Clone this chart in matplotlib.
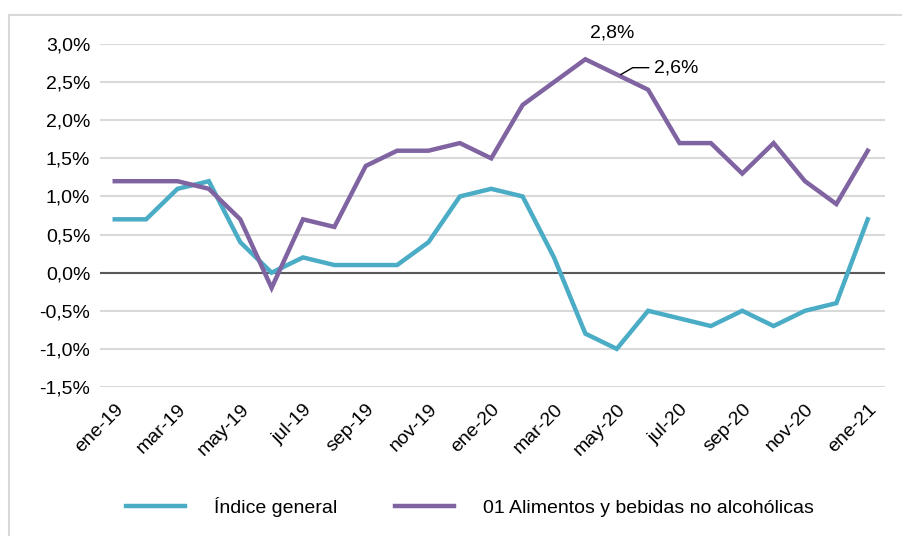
import numpy as np
import matplotlib
matplotlib.use('Agg')
import matplotlib.pyplot as plt
from matplotlib.patches import Rectangle
from matplotlib.ticker import FuncFormatter

plt.rcParams['font.family'] = ['Liberation Sans Narrow', 'Liberation Sans', 'DejaVu Sans']

months = ['ene-19', 'feb-19', 'mar-19', 'abr-19', 'may-19', 'jun-19', 'jul-19', 'ago-19',
          'sep-19', 'oct-19', 'nov-19', 'dic-19', 'ene-20', 'feb-20', 'mar-20', 'abr-20',
          'may-20', 'jun-20', 'jul-20', 'ago-20', 'sep-20', 'oct-20', 'nov-20', 'dic-20', 'ene-21']
general = [0.7, 0.7, 1.1, 1.2, 0.4, 0.0, 0.2, 0.1, 0.1, 0.1, 0.4, 1.0, 1.1,
           1.0, 0.2, -0.8, -1.0, -0.5, -0.6, -0.7, -0.5, -0.7, -0.5, -0.4, 0.7]
alimentos = [1.2, 1.2, 1.2, 1.1, 0.7, -0.2, 0.7, 0.6, 1.4, 1.6, 1.6, 1.7, 1.5,
             2.2, 2.5, 2.8, 2.6, 2.4, 1.7, 1.7, 1.3, 1.7, 1.2, 0.9, 1.6]
yticks = [-1.5, -1.0, -0.5, 0.0, 0.5, 1.0, 1.5, 2.0, 2.5, 3.0]

c_gen = '#4bacc6'
c_ali = '#8064a2'

fig = plt.figure(figsize=(9.03, 5.36), dpi=100)
ax = fig.add_axes([100 / 903, 1 - 387 / 536, 785 / 903, 343 / 536])

x = np.arange(len(months))
ax.plot(x, general, color=c_gen, lw=3.2, label='Índice general', solid_joinstyle='miter')
ax.plot(x, alimentos, color=c_ali, lw=3.2, label='01 Alimentos y bebidas no alcohólicas',
        solid_joinstyle='miter')

ax.set_xlim(-0.47, 24.55)
ax.set_ylim(-1.5, 3.0)
ax.set_yticks(yticks)
ax.yaxis.set_major_formatter(FuncFormatter(lambda v, p: f'{v:.1f}%'.replace('.', ',')))
ax.set_xticks(x[::2])
ax.set_xticklabels(months[::2], rotation=45, ha='right', va='top', rotation_mode='anchor')
ax.tick_params(length=0, labelsize=14, pad=7)
ax.tick_params(axis='x', pad=10)
ax.grid(axis='y', color='#d9d9d9', lw=1.5)
ax.set_axisbelow(True)
for s in ax.spines.values():
    s.set_visible(False)
ax.axhline(0, color='#595959', lw=1.5, zorder=1.5)

# data labels
i = months.index('abr-20')
ax.annotate(f'{alimentos[i]:.1f}%'.replace('.', ','), (i, alimentos[i]), xytext=(19, 13),
            textcoords='offset points', ha='center', va='bottom', fontsize=14, annotation_clip=False)
j = months.index('may-20')
ax.annotate(f'{alimentos[j]:.1f}%'.replace('.', ','), (j + 0.05, alimentos[j] - 0.02),
            xytext=(26, 6), textcoords='offset points', ha='left', va='center', fontsize=14,
            arrowprops=dict(arrowstyle='-', color='black', lw=1,
                            connectionstyle='angle,angleA=0,angleB=30,rad=0'))

fig.legend(loc='center', bbox_to_anchor=(470 / 903, 1 - 507 / 536), ncol=2, frameon=False,
           fontsize=14, handlelength=3.0, columnspacing=3.0, handletextpad=1.5)

fig.patches.append(Rectangle((8.5 / 903, -0.1), 1.2, 1 - 14.5 / 536 + 0.1, transform=fig.transFigure,
                             fill=False, edgecolor='#d9d9d9', lw=1.5))

fig.savefig('out.png', dpi=100)
